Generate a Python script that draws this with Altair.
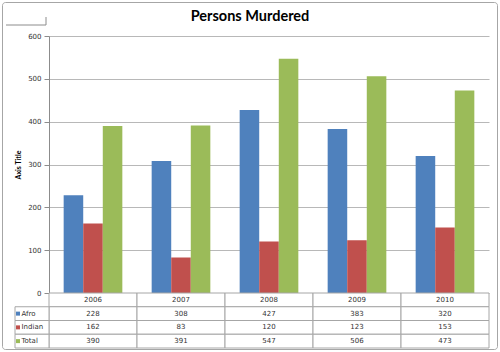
import altair as alt
import pandas as pd

years = ["2006", "2007", "2008", "2009", "2010"]
series = ["Afro", "Indian", "Total"]
afro = [228, 308, 427, 383, 320]
indian = [162, 83, 120, 123, 153]
total = [390, 391, 547, 506, 473]
colors = ["#4F81BD", "#C0504D", "#9BBB59"]
title_text = ["Persons Murdered"]
y_title = "Axis Title"
y_ticks = [0, 100, 200, 300, 400, 500, 600]

rows = []
for name, vals in zip(series, [afro, indian, total]):
    for yr, v in zip(years, vals):
        rows.append({"year": yr, "series": name, "value": v})
df = pd.DataFrame(rows)

W = 440
H = 257
TH = 55
FONT = "DejaVu Sans"
GRAY = "#a6a6a6"

color = alt.Color("series:N", scale=alt.Scale(domain=series, range=colors), legend=None)

xband = alt.X("year:N", scale=alt.Scale(domain=years, paddingInner=1 / 3, paddingOuter=1 / 6), axis=None)
bars = alt.Chart(df).mark_bar().encode(
    x=xband,
    xOffset=alt.XOffset("series:N", scale=alt.Scale(domain=series, paddingInner=0, paddingOuter=0)),
    y=alt.Y("value:Q", scale=alt.Scale(domain=[0, 600], nice=False),
            axis=alt.Axis(values=y_ticks, title=y_title, grid=True, gridColor="#b8b8b8",
                          domainColor="#8c8c8c", tickColor="#8c8c8c", tickSize=5,
                          labelFont=FONT, labelFontSize=7, labelColor="#333333", labelPadding=3,
                          titleFont="Lato", titleFontSize=7, titleFontWeight="bold",
                          titleColor="black", titlePadding=6)),
    color=color,
)

title = alt.Chart(pd.DataFrame({"t": title_text})).mark_text(
    font="Lato", fontSize=14.5, fontWeight="bold", color="black", baseline="middle"
).encode(text="t:N", x=alt.value(201), y=alt.value(-19))

frame = alt.Chart(pd.DataFrame({"k": [0]})).mark_rect(
    fillOpacity=0, stroke=GRAY, strokeWidth=1, cornerRadius=3
).encode(x=alt.value(-46.5), x2=alt.value(448.5), y=alt.value(-33.5), y2=alt.value(313.5))

art_h = alt.Chart(pd.DataFrame({"k": [0]})).mark_rule(color="#8c8c8c").encode(
    x=alt.value(-43), x2=alt.value(-3), y=alt.value(-11))
art_v = alt.Chart(pd.DataFrame({"k": [0]})).mark_rule(color="#8c8c8c").encode(
    x=alt.value(-3), y=alt.value(-19), y2=alt.value(-11))

top = alt.layer(frame, art_h, art_v, bars, title).properties(width=W, height=H)

cells = [{"year": yr, "row": "yr", "txt": yr} for yr in years] + \
        [{"year": r["year"], "row": r["series"], "txt": str(r["value"])} for r in rows]
tdf = pd.DataFrame(cells)
xt = alt.X("year:N", scale=alt.Scale(domain=years, paddingInner=0, paddingOuter=0), axis=None)
yt = alt.Y("row:N", scale=alt.Scale(domain=["yr"] + series, paddingInner=0, paddingOuter=0), axis=None)

grid = alt.Chart(tdf).mark_rect(fill="white", stroke=GRAY, strokeWidth=1).encode(x=xt, y=yt)
txt = alt.Chart(tdf).mark_text(font=FONT, fontSize=7, color="#333333").encode(x=xt, y=yt, text="txt:N")
lab_df = pd.DataFrame({"row": series})
labcell = alt.Chart(lab_df).mark_rect(fill="white", stroke=GRAY, strokeWidth=1).encode(
    x=alt.value(-34), x2=alt.value(0), y=yt)
sq = alt.Chart(lab_df).mark_square(size=16, filled=True, opacity=1).encode(
    x=alt.value(-31), y=yt,
    color=alt.Color("row:N", scale=alt.Scale(domain=series, range=colors), legend=None))
labtxt = alt.Chart(lab_df).mark_text(font=FONT, fontSize=7, color="#333333", align="left").encode(
    x=alt.value(-27.5), y=yt, text="row:N")

table = alt.layer(grid, labcell, txt, sq, labtxt).properties(width=W, height=TH)

chart = alt.vconcat(top, table, spacing=0, bounds="flush").configure_view(stroke=None).properties(
    padding=2, background="white")

chart.save("out.html", embed_options={"renderer": "svg", "actions": False})
